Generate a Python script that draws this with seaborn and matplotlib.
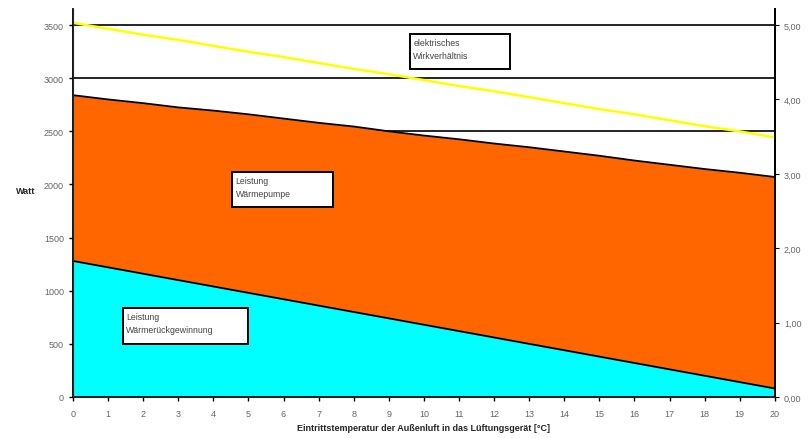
import numpy as np
import seaborn as sns
import matplotlib.pyplot as plt
from matplotlib.patches import Rectangle
from matplotlib.ticker import FuncFormatter

sns.set_style("white")
plt.rcParams['font.family'] = ['Liberation Sans', 'DejaVu Sans']

# Daten
temperatur = list(range(0, 21))
waermerueck = [1280, 1220, 1160, 1100, 1040, 980, 920, 860, 800, 740, 680,
               620, 560, 500, 440, 380, 320, 260, 200, 140, 80]
gesamt = [2840, 2800, 2765, 2725, 2695, 2660, 2620, 2580, 2545, 2500, 2460,
          2425, 2385, 2350, 2310, 2270, 2225, 2185, 2145, 2110, 2070]
wirkverh = [5.03, 4.95, 4.87, 4.80, 4.72, 4.64, 4.57, 4.49, 4.41, 4.34, 4.26,
            4.18, 4.11, 4.03, 3.95, 3.87, 3.80, 3.72, 3.64, 3.57, 3.49]
y_ticks = [0, 500, 1000, 1500, 2000, 2500, 3000, 3500]
y2_ticks = [0, 1, 2, 3, 4, 5]

fig = plt.figure(figsize=(8.08, 4.39), dpi=100)
ax = fig.add_axes([0.0903, 0.0934, 0.8687, 0.8836])

# Gitterlinien
for yt in y_ticks[1:]:
    ax.axhline(yt, color='black', lw=1.2, zorder=0)

ax.fill_between(temperatur, 0, waermerueck, color='#00FFFF', zorder=1, lw=0)
ax.fill_between(temperatur, waermerueck, gesamt, color='#FF6600', zorder=1, lw=0)
sns.lineplot(x=temperatur, y=waermerueck, ax=ax, color='black', lw=1.3, zorder=2)
sns.lineplot(x=temperatur, y=gesamt, ax=ax, color='black', lw=1.3, zorder=2)

ax.set_xlim(0, 20)
ax.set_ylim(0, 3650)
ax.set_xticks(temperatur)
ax.set_yticks(y_ticks)
ax.tick_params(axis='both', labelsize=6.5, labelcolor='#666666', length=3,
               direction='out', color='black', width=1)
ax.tick_params(axis='y', left=True)
ax.tick_params(axis='x', bottom=True, pad=6)
ax.spines['top'].set_visible(False)
for s in ['left', 'bottom', 'right']:
    ax.spines[s].set_color('black')
    ax.spines[s].set_linewidth(1.3)

ax.set_ylabel('Watt', fontsize=6.5, fontweight='bold', rotation=0)
ax.yaxis.set_label_coords(-0.067, 0.52)
ax.set_xlabel('Eintrittstemperatur der Außenluft in das Lüftungsgerät [°C]',
              fontsize=6.5, fontweight='bold', labelpad=3)

ax2 = ax.twinx()
sns.lineplot(x=temperatur, y=wirkverh, ax=ax2, color='#FFFF00', lw=1.8)
ax2.set_ylim(0, 3650 / 700)
ax2.set_yticks(y2_ticks)
ax2.yaxis.set_major_formatter(FuncFormatter(lambda v, p: f'{v:.2f}'.replace('.', ',')))
ax2.tick_params(axis='y', labelsize=6.5, labelcolor='#666666', length=3,
                direction='out', color='black', right=True)
ax2.spines['top'].set_visible(False)
ax2.spines['right'].set_color('black')
ax2.spines['right'].set_linewidth(1.3)
ax2.set_ylabel('')

# Beschriftungskästen (x0, y0, Breite, Höhe in Datenkoordinaten)
boxes = [
    ('elektrisches\nWirkverhältnis', 9.6, 3085, 2.85, 330),
    ('Leistung\nWärmepumpe', 4.53, 1787, 2.88, 330),
    ('Leistung\nWärmerückgewinnung', 1.42, 499, 3.57, 338),
]
for txt, x0, y0, w, h in boxes:
    ax.add_patch(Rectangle((x0, y0), w, h, facecolor='white', edgecolor='black',
                           lw=1.4, zorder=5))
    ax.text(x0 + 0.1, y0 + h - 40, txt, fontsize=6.3, color='#444444',
            va='top', ha='left', zorder=6, linespacing=1.5)

plt.savefig('out.png', dpi=100)
